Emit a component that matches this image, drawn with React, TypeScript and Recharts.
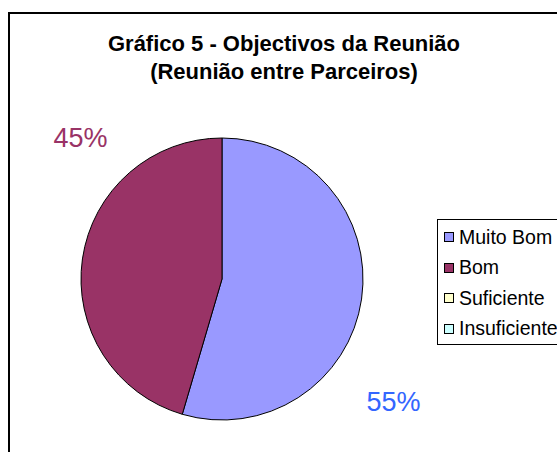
import { PieChart, Pie, Cell, Legend } from 'recharts'

const CATEGORIES = ['Muito Bom', 'Bom', 'Suficiente', 'Insuficiente']
// response counts per category (6/11 ≈ 55%, 5/11 ≈ 45%)
const VALUES = [6, 5, 0, 0]
const COLORS = ['#9999FF', '#993366', '#FFFFCC', '#CCFFFF']
const LABEL_COLORS = ['#3366FF', '#993366', '#000000', '#000000']

const data = CATEGORIES.map((name, i) => ({ name, value: VALUES[i] }))

// label placement (angle in degrees, distance from centre) per slice
const LABEL_SPOTS = [
  { angle: -35.6, dist: 211 },
  { angle: 135, dist: 200 },
]

const renderLabel = (props: any) => {
  const { cx, cy, index, value, percent } = props
  if (!value) return null
  const spot = LABEL_SPOTS[index]
  const rad = (spot.angle * Math.PI) / 180
  const x = cx + spot.dist * Math.cos(rad)
  const y = cy - spot.dist * Math.sin(rad)
  return (
    <text
      x={x}
      y={y}
      textAnchor="middle"
      dominantBaseline="central"
      fill={LABEL_COLORS[index]}
      fontSize={27}
      fontFamily="'Liberation Sans', Arial, sans-serif"
    >
      {`${Math.round(percent * 100)}%`}
    </text>
  )
}

const LegendBox = () => (
  <div
    style={{
      border: '1px solid #000',
      padding: '2px 0 0 6px',
      width: 140,
      height: 122,
      boxSizing: 'content-box',
      background: '#fff',
      fontFamily: "'Liberation Sans', Arial, sans-serif",
      fontSize: 19.5,
      whiteSpace: 'nowrap',
    }}
  >
    {CATEGORIES.map((c, i) => (
      <div key={c} style={{ display: 'flex', alignItems: 'center', height: 30.5 }}>
        <span
          style={{
            width: 8,
            height: 8,
            border: '1px solid #000',
            background: COLORS[i],
            marginRight: 5,
            display: 'inline-block',
            flexShrink: 0,
          }}
        />
        <span>{c}</span>
      </div>
    ))}
  </div>
)

export default function App() {
  return (
    <div style={{ position: 'fixed', left: 0, top: 0, width: 557, height: 452, overflow: 'hidden', background: '#fff' }}>
      <div
        style={{
          position: 'absolute',
          left: 8,
          top: 12,
          width: 600,
          height: 500,
          border: '2px solid #000',
        }}
      />
      <div
        style={{
          position: 'absolute',
          left: 0,
          top: 30,
          width: 568,
          textAlign: 'center',
          fontFamily: "'Liberation Sans', Arial, sans-serif",
          fontWeight: 'bold',
          fontSize: 22,
          lineHeight: '28px',
          color: '#000',
        }}
      >
        Gráfico 5 - Objectivos da Reunião
        <br />
        (Reunião entre Parceiros)
      </div>
      <div style={{ position: 'absolute', left: 0, top: 0 }}>
        <PieChart width={557} height={452} margin={{ top: 0, right: 0, bottom: 0, left: 0 }}>
          <Pie
            data={data}
            dataKey="value"
            cx={222}
            cy={279}
            outerRadius={141}
            startAngle={90}
            endAngle={-270}
            stroke="#000"
            strokeWidth={1}
            label={renderLabel}
            labelLine={false}
            isAnimationActive={false}
          >
            {data.map((d, i) => (
              <Cell key={d.name} fill={COLORS[i]} />
            ))}
          </Pie>
          <Legend
            content={<LegendBox />}
            wrapperStyle={{ position: 'absolute', left: 437, top: 219, width: 160 }}
          />
        </PieChart>
      </div>
    </div>
  )
}
